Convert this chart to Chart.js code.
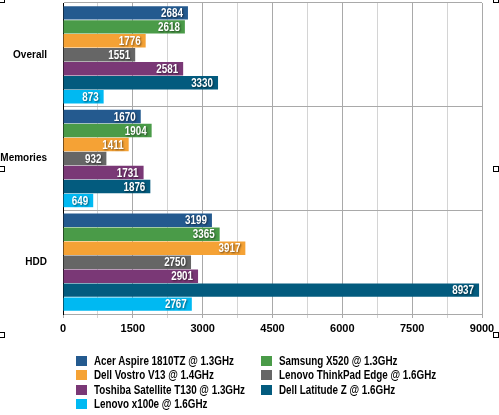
<!DOCTYPE html>
<html>
<head>
<meta charset="utf-8">
<script src="https://cdn.jsdelivr.net/npm/chart.js@4/dist/chart.umd.min.js"></script>
<style>
  body { margin:0; background:#fff; }
  #wrap { position:relative; width:499px; height:415px; }
  #legend { position:absolute; left:0; top:0; width:499px; height:415px; pointer-events:none;
    font: bold 12px 'Liberation Sans', Arial, sans-serif; color:#000; }
  .item { position:absolute; height:14px; line-height:14px; white-space:nowrap; }
  .item span.box { position:absolute; left:0; top:2px; width:11px; height:10px; }
  .item span.txt { position:absolute; left:18px; top:0; transform:scaleX(0.82); transform-origin:0 50%; }
</style>
</head>
<body>
<div id="wrap">
  <canvas id="myChart" width="499" height="415"></canvas>
  <div id="legend"></div>
</div>
<script>
// 데이터
var categories = ['Overall', 'Memories', 'HDD'];
var seriesNames = ['Acer Aspire 1810TZ @ 1.3GHz', 'Samsung X520 @ 1.3GHz', 'Dell Vostro V13 @ 1.4GHz',
  'Lenovo ThinkPad Edge @ 1.6GHz', 'Toshiba Satellite T130 @ 1.3GHz', 'Dell Latitude Z @ 1.6GHz', 'Lenovo x100e @ 1.6GHz'];
var acer = [2684, 1670, 3199];
var samsung = [2618, 1904, 3365];
var vostro = [1776, 1411, 3917];
var thinkpad = [1551, 932, 2750];
var toshiba = [2581, 1731, 2901];
var latitude = [3330, 1876, 8937];
var x100e = [873, 649, 2767];
var xTicks = [0, 1500, 3000, 4500, 6000, 7500, 9000];

var colors = ['#245a8f', '#4a9b48', '#f5a235', '#666666', '#7a3876', '#035b7e', '#00b9f2'];
var values = [acer, samsung, vostro, thinkpad, toshiba, latitude, x100e];
var font = "'Liberation Sans', Arial, sans-serif";

var datasets = [];
for (var i = 0; i < values.length; i++) {
  datasets.push({
    label: seriesNames[i],
    data: values[i],
    backgroundColor: colors[i],
    borderWidth: 0,
    barPercentage: 0.96,
    categoryPercentage: 0.945
  });
}

// 막대 끝 숫자 (좁은 글꼴 흉내: 가로 0.82배)
var valueLabels = {
  id: 'valueLabels',
  afterDatasetsDraw: function(chart) {
    var ctx = chart.ctx;
    chart.data.datasets.forEach(function(ds, di) {
      chart.getDatasetMeta(di).data.forEach(function(bar, j) {
        ctx.save();
        ctx.translate(bar.x - 5, bar.y + 1);
        ctx.scale(0.82, 1);
        ctx.font = 'bold 12px ' + font;
        ctx.fillStyle = '#fff';
        ctx.textAlign = 'right';
        ctx.textBaseline = 'middle';
        ctx.shadowColor = 'rgba(0,0,0,0.55)';
        ctx.shadowBlur = 2;
        ctx.shadowOffsetX = 1;
        ctx.shadowOffsetY = 1;
        ctx.fillText(ds.data[j], 0, 0);
        ctx.restore();
      });
    });
  }
};

// 모서리 핸들 (원본 이미지의 선택 박스)
var handles = {
  id: 'handles',
  afterDraw: function(chart) {
    var ctx = chart.ctx;
    var pts = [[-1, -3], [493, -3], [-1, 166], [493, 166], [-1, 332], [493, 332]];
    ctx.save();
    ctx.strokeStyle = '#000';
    ctx.fillStyle = '#fff';
    ctx.lineWidth = 1;
    pts.forEach(function(p) {
      ctx.fillRect(p[0] + 0.5, p[1] + 0.5, 5, 5);
      ctx.strokeRect(p[0] + 0.5, p[1] + 0.5, 5, 5);
    });
    ctx.restore();
  }
};

function gridCol(c) {
  return (c.tick && c.tick.value % 1500 === 0) ? '#a9a9a9' : '#d4d4d4';
}

new Chart(document.getElementById('myChart'), {
  type: 'bar',
  data: { labels: categories, datasets: datasets },
  plugins: [valueLabels, handles],
  options: {
    indexAxis: 'y',
    responsive: false,
    animation: false,
    layout: { padding: { left: 0, top: 3, right: 17, bottom: 76 } },
    plugins: { legend: { display: false }, tooltip: { enabled: false } },
    scales: {
      x: {
        min: 0, max: 9000,
        afterBuildTicks: function(scale) {
          var t = [];
          for (var k = 0; k < xTicks.length; k++) {
            t.push({ value: xTicks[k] });
            if (k < xTicks.length - 1) t.push({ value: xTicks[k] + 750 });
          }
          scale.ticks = t;
        },
        afterFit: function(scale) { scale.height = 25; },
        ticks: {
          autoSkip: false, maxRotation: 0, padding: 4, color: '#000',
          font: { family: font, size: 11, weight: 'bold' },
          callback: function(v) { return xTicks.indexOf(v) >= 0 ? v : ''; }
        },
        grid: { color: gridCol, tickColor: gridCol, tickLength: 4, lineWidth: 1 },
        border: { color: '#a9a9a9' }
      },
      y: {
        afterFit: function(scale) {
          scale.width = 63;
          scale.paddingTop = 0;
          scale.paddingBottom = 0;
        },
        ticks: { padding: 16, color: '#000', font: { family: font, size: 10, weight: 'bold' } },
        grid: { color: '#a9a9a9', drawTicks: false, offset: true },
        border: { color: '#000' }
      }
    }
  }
});

// 범례 (2열)
var legend = document.getElementById('legend');
for (var n = 0; n < seriesNames.length; n++) {
  var col = n % 2, row = Math.floor(n / 2);
  var it = document.createElement('div');
  it.className = 'item';
  it.style.left = (col === 0 ? 76 : 261) + 'px';
  it.style.top = (354 + row * 14.4) + 'px';
  it.innerHTML = "<span class='box' style='background:" + colors[n] + "'></span><span class='txt'>" + seriesNames[n] + "</span>";
  legend.appendChild(it);
}
</script>
</body>
</html>
